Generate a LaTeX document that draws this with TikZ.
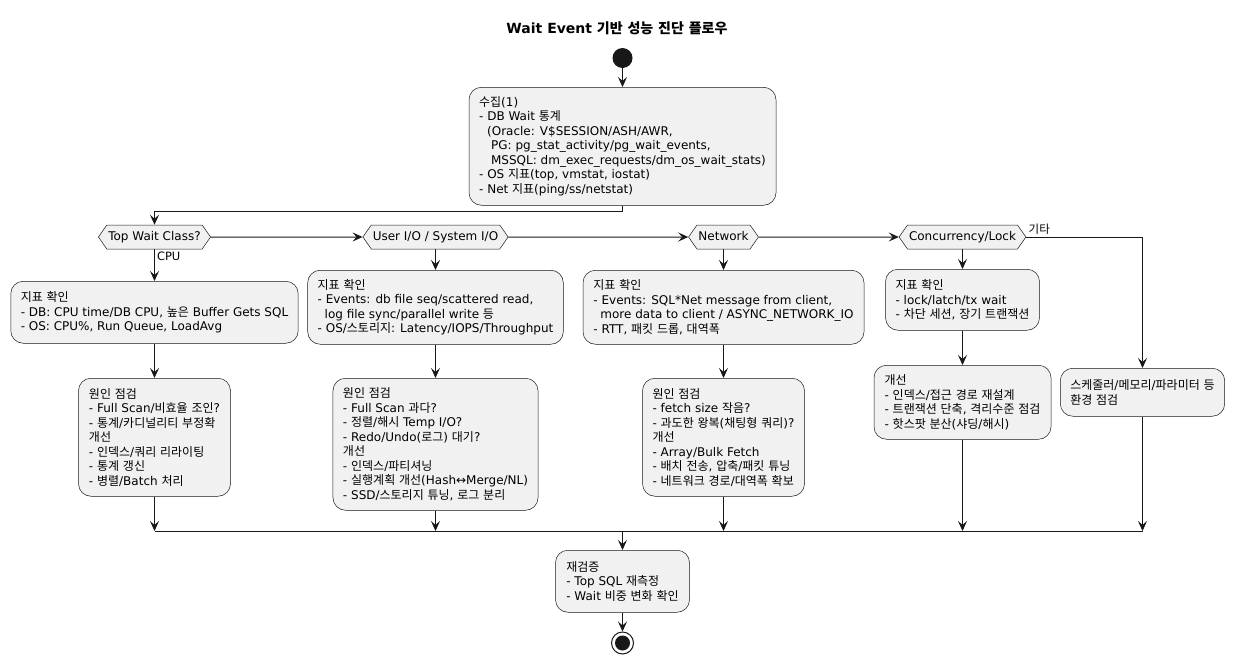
\documentclass[tikz,border=0pt]{standalone}
\usepackage{fontspec}
\setmainfont{DejaVu Sans}
\newfontfamily\krfont{Noto Sans CJK KR}
\newfontfamily\lafont{DejaVu Sans}
\usetikzlibrary{arrows.meta,shapes.symbols}
\definecolor{actfill}{HTML}{F1F1F1}
\definecolor{ink}{HTML}{181818}
% hangul syllables are set in the CJK family
\XeTeXinterchartokenstate=1
\newXeTeXintercharclass\hangul
\count255="AC00
\loop
  \XeTeXcharclass\count255=\hangul
  \ifnum\count255<"D7A3 \advance\count255 by 1 \repeat
\XeTeXinterchartoks 0 \hangul {\krfont}
\XeTeXinterchartoks 4095 \hangul {\krfont}
\XeTeXinterchartoks \hangul 0 {\lafont}
\XeTeXinterchartoks \hangul 4095 {\lafont}

\begin{document}
\begin{tikzpicture}[x=1pt,y=-1pt,
  every node/.style={font=\fontsize{12}{14.5}\selectfont, text=black},
  act/.style={draw=ink, fill=actfill, line width=0.5pt, rounded corners=12.5pt,
    anchor=north, align=left, inner xsep=10pt, inner ysep=0pt},
  hexa/.style={signal, signal to=east and west, signal pointer angle=110,
    draw=ink, fill=actfill, line width=0.5pt, text height=9pt, text depth=3pt,
    inner ysep=6pt, inner xsep=1.5pt},
  flow/.style={draw=ink, line width=1pt, -{Stealth[length=10pt,width=9pt,inset=4pt]}},
  lbl/.style={font=\fontsize{11.5}{13}\selectfont, inner sep=2pt}]
  \fill[white] (0,0) rectangle (1234,664);
  \useasboundingbox (0,0) rectangle (1234,664);

  \node[font=\fontsize{14}{16}\selectfont\bfseries] (title) at (617,28) {Wait Event 기반 성능 진단 플로우};
  \node[circle, fill=ink, minimum size=20pt, inner sep=0pt] (start) at (622.5,58) {};

  \node[act, minimum width=307pt, minimum height=118pt] (collect) at (622.5,87)
    {수집(1)\\- DB Wait 통계\\\hspace*{8pt}(Oracle: V\$SESSION/ASH/AWR,\\
     \hspace*{12pt}PG: pg\_stat\_activity/pg\_wait\_events,\\
     \hspace*{12pt}MSSQL: dm\_exec\_requests/dm\_os\_wait\_stats)\\
     - OS 지표(top, vmstat, iostat)\\- Net 지표(ping/ss/netstat)};

  % branches
  \node[hexa] (cls) at (154.5,237) {Top Wait Class?};
  \node[hexa] (io) at (435.5,237) {User I/O / System I/O};
  \node[hexa] (net) at (723.5,237) {Network};
  \node[hexa] (lock) at (962.5,237) {Concurrency/Lock};

  \node[act, minimum width=286pt, minimum height=62pt] (cpuchk) at (154.5,281)
    {지표 확인\\- DB: CPU time/DB CPU, 높은 Buffer Gets SQL\\- OS: CPU\%, Run Queue, LoadAvg};
  \node[act, minimum width=152pt, minimum height=118pt] (cpucause) at (154.5,378)
    {원인 점검\\- Full Scan/비효율 조인?\\- 통계/카디널리티 부정확\\개선\\
     - 인덱스/쿼리 리라이팅\\- 통계 갱신\\- 병렬/Batch 처리};

  \node[act, minimum width=255pt, minimum height=74pt] (iochk) at (435.5,270)
    {지표 확인\\- Events: db file seq/scattered read,\\\hspace*{7pt}log file sync/parallel write 등\\
     - OS/스토리지: Latency/IOPS/Throughput};
  \node[act, minimum width=204pt, minimum height=132pt] (iocause) at (435.5,378)
    {원인 점검\\- Full Scan 과다?\\- 정렬/해시 Temp I/O?\\- Redo/Undo(로그) 대기?\\개선\\
     - 인덱스/파티셔닝\\- 실행계획 개선(Hash↔Merge/NL)\\- SSD/스토리지 튜닝, 로그 분리};

  \node[act, minimum width=281pt, minimum height=74pt] (netchk) at (723.5,270)
    {지표 확인\\- Events: SQL*Net message from client,\\
     \hspace*{7pt}more data to client / ASYNC\_NETWORK\_IO\\- RTT, 패킷 드롭, 대역폭};
  \node[act, minimum width=162pt, minimum height=118pt] (netcause) at (723.5,378)
    {원인 점검\\- fetch size 작음?\\- 과도한 왕복(채팅형 쿼리)?\\개선\\
     - Array/Bulk Fetch\\- 배치 전송, 압축/패킷 튜닝\\- 네트워크 경로/대역폭 확보};

  \node[act, minimum width=154pt, minimum height=61pt] (lockchk) at (962.5,269)
    {지표 확인\\- lock/latch/tx wait\\- 차단 세션, 장기 트랜잭션};
  \node[act, minimum width=177pt, minimum height=74pt] (lockfix) at (962.5,365)
    {개선\\- 인덱스/접근 경로 재설계\\- 트랜잭션 단축, 격리수준 점검\\- 핫스팟 분산(샤딩/해시)};

  \node[act, minimum width=163pt, minimum height=48pt] (other) at (1142.5,368)
    {스케줄러/메모리/파라미터 등\\환경 점검};

  \node[act, minimum width=134pt, minimum height=62pt] (recheck) at (622.5,550)
    {재검증\\- Top SQL 재측정\\- Wait 비중 변화 확인};
  \node[circle, draw=ink, fill=white, line width=1pt, minimum size=22pt, inner sep=0pt] (stop) at (622.5,643) {};
  \node[circle, fill=ink, minimum size=15pt, inner sep=0pt] (stopdot) at (stop) {};

  % merge bar
  \coordinate (m0) at (622.5,531);
  \coordinate (m1) at (154.5,531);
  \coordinate (m2) at (435.5,531);
  \coordinate (m3) at (723.5,531);
  \coordinate (m4) at (962.5,531);
  \coordinate (m5) at (1142.5,531);

  \draw[flow] (start) -- (collect);
  \draw[flow] (collect.south) -- ++(0,6) -| (cls.north);
  \draw[flow] (cls) -- (io);
  \draw[flow] (io) -- (net);
  \draw[flow] (net) -- (lock);
  \draw[flow] (lock.east) -| node[lbl, pos=0, anchor=south west] {기타} (other.north);
  \draw[flow] (cls) -- node[lbl, pos=0, anchor=north west] {CPU} (cpuchk);
  \draw[flow] (cpuchk) -- (cpucause);
  \draw[flow] (io) -- (iochk);
  \draw[flow] (iochk) -- (iocause);
  \draw[flow] (net) -- (netchk);
  \draw[flow] (netchk) -- (netcause);
  \draw[flow] (lock) -- (lockchk);
  \draw[flow] (lockchk) -- (lockfix);
  \draw[draw=ink, line width=1pt] (m1) -- (m5);
  \draw[flow] (cpucause) -- (m1);
  \draw[flow] (iocause) -- (m2);
  \draw[flow] (netcause) -- (m3);
  \draw[flow] (lockfix) -- (m4);
  \draw[flow] (other) -- (m5);
  \draw[flow] (m0) -- (recheck);
  \draw[flow] (recheck) -- (stop);
\end{tikzpicture}
\end{document}
